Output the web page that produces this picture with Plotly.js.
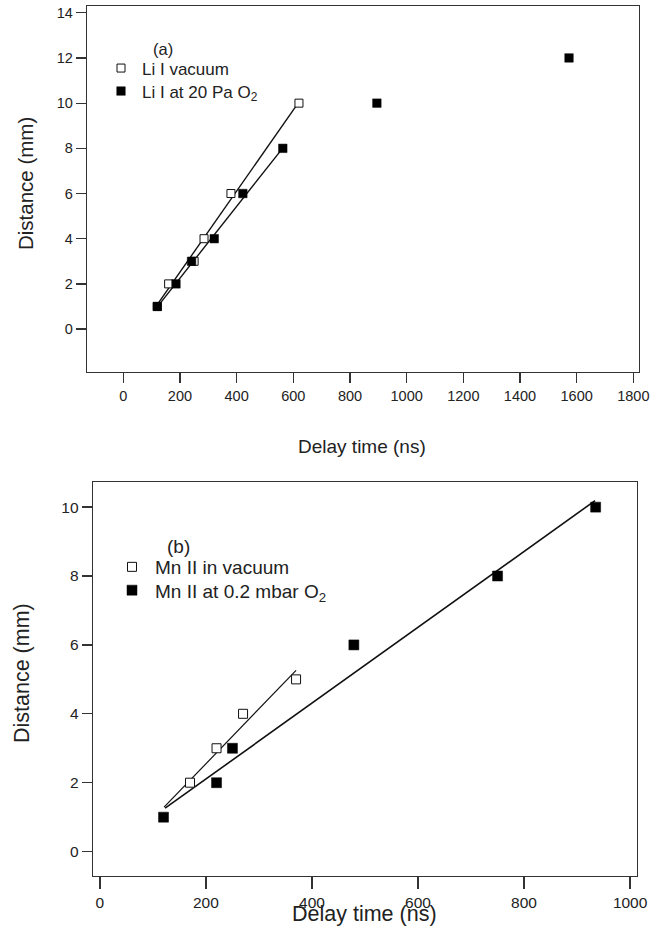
<!DOCTYPE html>
<html>
<head>
<meta charset="utf-8">
<script src="https://cdn.plot.ly/plotly-3.0.1.min.js"></script>
<style>html,body{margin:0;padding:0;background:#fff;}#chart{width:660px;height:935px;}</style>
</head>
<body>
<div id="chart"></div>
<script>
// ---- Panel (a): Li I ----
const liVacT = [120, 160, 250, 285, 380, 620];
const liVacD = [1, 2, 3, 4, 6, 10];
const liO2T = [120, 186, 241, 321, 422, 563, 895, 1573];
const liO2D = [1, 2, 3, 4, 6, 8, 10, 12];
const liVacFitT = [118, 617];
const liVacFitD = [1.05, 10.0];
const liO2FitT = [118, 562];
const liO2FitD = [0.95, 8.0];

// ---- Panel (b): Mn II ----
const mnVacT = [170, 220, 270, 370];
const mnVacD = [2, 3, 4, 5];
const mnO2T = [120, 220, 250, 479, 750, 935];
const mnO2D = [1, 2, 3, 6, 8, 10];
const mnVacFitT = [121, 370];
const mnVacFitD = [1.29, 5.26];
const mnO2FitT = [123, 934];
const mnO2FitD = [1.26, 10.19];

const legendA = ['Li I vacuum', 'Li I at 20 Pa O<sub>2</sub>'];
const legendB = ['Mn II in vacuum', 'Mn II at 0.2 mbar O<sub>2</sub>'];

const FONT = 'Liberation Sans, Arial, Helvetica, sans-serif';
const TXT = '#222';
const AX = '#333';

const traces = [
  {x: liVacFitT, y: liVacFitD, xaxis: 'x', yaxis: 'y', mode: 'lines', line: {color: '#111', width: 1.4}, showlegend: false, hoverinfo: 'skip'},
  {x: liO2FitT, y: liO2FitD, xaxis: 'x', yaxis: 'y', mode: 'lines', line: {color: '#111', width: 1.4}, showlegend: false, hoverinfo: 'skip'},
  {x: liVacT, y: liVacD, xaxis: 'x', yaxis: 'y', mode: 'markers', name: legendA[0], legend: 'legend',
   marker: {symbol: 'square', size: 8, color: '#fff', line: {color: '#111', width: 1}}},
  {x: liO2T, y: liO2D, xaxis: 'x', yaxis: 'y', mode: 'markers', name: legendA[1], legend: 'legend2',
   marker: {symbol: 'square', size: 8.5, color: '#000', line: {color: '#000', width: 0.5}}},

  {x: mnVacFitT, y: mnVacFitD, xaxis: 'x2', yaxis: 'y2', mode: 'lines', line: {color: '#111', width: 1.2}, showlegend: false, hoverinfo: 'skip'},
  {x: mnO2FitT, y: mnO2FitD, xaxis: 'x2', yaxis: 'y2', mode: 'lines', line: {color: '#111', width: 1.6}, showlegend: false, hoverinfo: 'skip'},
  {x: mnVacT, y: mnVacD, xaxis: 'x2', yaxis: 'y2', mode: 'markers', name: legendB[0], legend: 'legend3',
   marker: {symbol: 'square', size: 9, color: '#fff', line: {color: '#111', width: 1}}},
  {x: mnO2T, y: mnO2D, xaxis: 'x2', yaxis: 'y2', mode: 'markers', name: legendB[1], legend: 'legend4',
   marker: {symbol: 'square', size: 10, color: '#000', line: {color: '#000', width: 0.5}}}
];

const axBase = {
  showline: true, mirror: true, linecolor: AX, linewidth: 1.3,
  ticks: 'outside', tickcolor: AX, tickwidth: 1.3,
  showgrid: false, zeroline: false, fixedrange: true,
  tickfont: {family: FONT, color: TXT}
};

function leg(x, yTop, size, iw) {
  return {x: x/660, y: 1 - yTop/935, xanchor: 'left', yanchor: 'top', bgcolor: 'rgba(0,0,0,0)', borderwidth: 0,
          font: {family: FONT, size: size, color: TXT}, itemwidth: iw};
}

const layout = {
  width: 660, height: 935,
  margin: {l: 0, r: 0, t: 0, b: 0},
  paper_bgcolor: '#fff', plot_bgcolor: '#fff',
  font: {family: FONT, color: TXT},
  xaxis: Object.assign({}, axBase, {domain: [87/660, 639/660], anchor: 'y', range: [-128, 1820], dtick: 200, tick0: 0, ticklen: 10, tickfont: {family: FONT, color: TXT, size: 14.5}}),
  yaxis: Object.assign({}, axBase, {domain: [1 - 372/935, 1 - 6/935], anchor: 'x', range: [-1.9, 14.3], dtick: 2, tick0: 0, ticklen: 10, tickfont: {family: FONT, color: TXT, size: 14.5}}),
  xaxis2: Object.assign({}, axBase, {domain: [93/660, 637/660], anchor: 'y2', range: [-13, 1013], dtick: 200, tick0: 0, ticklen: 12, tickfont: {family: FONT, color: TXT, size: 15.5}}),
  yaxis2: Object.assign({}, axBase, {domain: [1 - 875.7/935, 1 - 482/935], anchor: 'x2', range: [-0.7, 10.73], dtick: 2, tick0: 0, ticklen: 10, tickfont: {family: FONT, color: TXT, size: 15.5}}),
  legend: leg(100, 50.5, 17, 32),
  legend2: leg(100, 73.5, 17, 32),
  legend3: leg(109, 548, 19, 36),
  legend4: leg(109, 571.3, 19, 36),
  annotations: [
    {text: '(a)', xref: 'paper', yref: 'paper', x: 151/660, y: 1 - 49/935, xanchor: 'left', yanchor: 'middle', showarrow: false, font: {family: FONT, size: 16.5, color: TXT}},
    {text: '(b)', xref: 'paper', yref: 'paper', x: 165/660, y: 1 - 546/935, xanchor: 'left', yanchor: 'middle', showarrow: false, font: {family: FONT, size: 19, color: TXT}},
    {text: 'Distance (mm)', xref: 'paper', yref: 'paper', x: 25/660, y: 1 - 184/935, xanchor: 'center', yanchor: 'middle', textangle: -90, showarrow: false, font: {family: FONT, size: 20.5, color: TXT}},
    {text: 'Delay time (ns)', xref: 'paper', yref: 'paper', x: 362/660, y: 1 - 446/935, xanchor: 'center', yanchor: 'middle', showarrow: false, font: {family: FONT, size: 19, color: TXT}},
    {text: 'Distance (mm)', xref: 'paper', yref: 'paper', x: 22/660, y: 1 - 673/935, xanchor: 'center', yanchor: 'middle', textangle: -90, showarrow: false, font: {family: FONT, size: 21.5, color: TXT}},
    {text: 'Delay time (ns)', xref: 'paper', yref: 'paper', x: 364/660, y: 1 - 914/935, xanchor: 'center', yanchor: 'middle', showarrow: false, font: {family: FONT, size: 21.5, color: TXT}}
  ]
};

Plotly.newPlot('chart', traces, layout, {displayModeBar: false, staticPlot: true});
</script>
</body>
</html>
